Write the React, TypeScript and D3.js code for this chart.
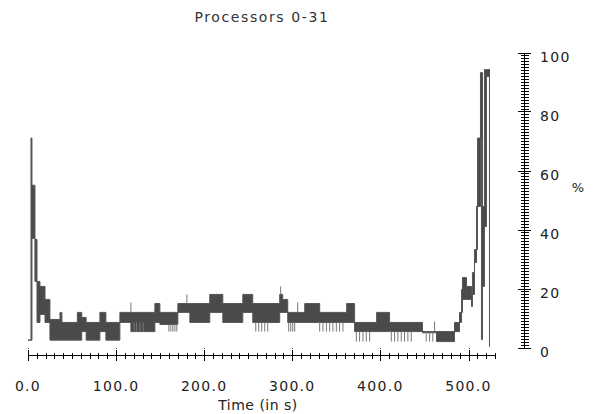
import React from "react";
import * as d3 from "d3";

// Time (s) at which each step begins, with the low / high envelope (%) of the busy signal
const T = [0, 3.4, 4.5, 7.9, 10.2, 13.6, 19.3, 24.9, 36.3, 38.5, 56, 61, 66, 81.6, 88.4, 104.3, 116.8, 144, 149.7, 170.1, 183.7, 206.3, 221.1, 243.8, 255.1, 285.7, 289.1, 294.8, 314.1, 331.1, 361.7, 370.7, 395.7, 410.4, 447.8, 463.7, 484.1, 489.8, 492.1, 493.2, 497.7, 503.4, 504.5, 506.8, 509.1, 510.2, 513.6, 514.7, 515.9, 518.1, 520.4, 523.8, 524.4];
const LO = [2.5, 2.5, 37, 22.4, 8.5, 11.2, 8.5, 2.5, 2.5, 2.5, 2.5, 5.4, 2.5, 5.4, 2.5, 8.5, 5.4, 8.5, 7.8, 11.9, 8.5, 11.9, 8.5, 11.9, 8.5, 11.9, 11.9, 8.5, 8.5, 8.5, 8.5, 5.4, 5.4, 5.4, 5.0, 2.0, 5.4, 8.5, 11.9, 16.3, 16.3, 13.9, 18, 28.8, 33.2, 47.8, 70.5, 2.7, 20.7, 41, 91.9, 0.3, 0.3];
const HI = [2.5, 71, 55, 36.6, 22.4, 20.7, 16.3, 9.5, 11.9, 8.5, 11.9, 10.2, 8.5, 11.9, 8.5, 11.9, 11.9, 14.9, 11.9, 14.9, 14.9, 18, 14.9, 18, 14.9, 18, 16.3, 11.9, 14.9, 11.9, 14.9, 8.5, 11.9, 8.5, 5.4, 5.4, 8.5, 11.9, 19.7, 23.7, 20.7, 18, 25.4, 33.2, 47.8, 71, 93.2, 93.2, 47.8, 94.2, 94.2, 94.2, 94.2];

// Isolated thin spikes (time, low %, high %)
const SPIKE_T = [116.8, 120.5, 123.2, 127.0, 130.7, 159.9, 162.1, 164.4, 166.7, 168.9, 180.3, 258.5, 261.9, 265.3, 268.7, 272.1, 286.8, 295.9, 298.2, 300.5, 302.7, 306.1, 331.1, 334.8, 338.7, 342.4, 346.1, 350.0, 353.7, 357.5, 372.7, 376.4, 380.2, 384.0, 387.8, 412.4, 416.1, 419.8, 423.7, 427.4, 431.2, 435.0, 452.0, 455.8, 459.5, 461.5];
const SPIKE_LO = [11.9, 5.4, 5.4, 5.4, 5.4, 5.4, 5.4, 5.4, 5.4, 5.4, 14.9, 5.4, 5.4, 5.4, 5.4, 5.4, 18, 5.4, 5.4, 5.4, 5.4, 11.9, 5.4, 5.4, 5.4, 5.4, 5.4, 5.4, 5.4, 5.4, 2.0, 2.0, 2.0, 2.0, 2.0, 2.0, 2.0, 2.0, 2.0, 2.0, 2.0, 2.0, 2.0, 2.0, 2.0, 5.4];
const SPIKE_HI = [15.3, 8.5, 8.5, 8.5, 8.5, 7.8, 7.8, 7.8, 7.8, 7.8, 18, 8.5, 8.5, 8.5, 8.5, 8.5, 20.7, 8.5, 8.5, 8.5, 8.5, 15.3, 8.5, 8.5, 8.5, 8.5, 8.5, 8.5, 8.5, 8.5, 5.4, 5.4, 5.4, 5.4, 5.4, 5.4, 5.4, 5.4, 5.4, 5.4, 5.4, 5.4, 5.4, 5.4, 5.4, 8.8];

const X_MAJOR = [0, 100, 200, 300, 400, 500];
const X_MINOR = d3.range(0, 531, 10);
const Y_MAJOR = [0, 20, 40, 60, 80, 100];
const Y_MINOR = d3.range(0, 101, 1);
const GRID_X = [0, 100, 200, 300, 400, 500, 557];

const TITLE = "Processors 0-31";
const X_TITLE = "Time (in s)";
const Y_TITLE = "%";

export default function App() {
  const W = 594, H = 414;
  const x = d3.scaleLinear().domain([0, 500]).range([28, 468.5]);
  const y = d3.scaleLinear().domain([0, 100]).range([347.5, 52.5]);
  const axisY = 355;
  const axisX = 524;

  const data = T.map((t, i) => ({ t, lo: LO[i], hi: HI[i] }));
  const area = d3.area<any>().x(d => x(d.t)).y0(d => y(d.lo)).y1(d => y(d.hi)).curve(d3.curveStepAfter);
  const lineLo = d3.line<any>().x(d => x(d.t)).y(d => y(d.lo)).curve(d3.curveStepAfter);
  const lineHi = d3.line<any>().x(d => x(d.t)).y(d => y(d.hi)).curve(d3.curveStepAfter);

  const font = "'DejaVu Sans', sans-serif";
  const gridMaxT = GRID_X[GRID_X.length - 1];

  return (
    <svg width={W} height={H} style={{ position: "absolute", left: 0, top: 0, background: "#fff" }}>
      <text x={262} y={22} textAnchor="middle" fontFamily={font} fontSize={14} letterSpacing={1.6} fill="#333">{TITLE}</text>

      {/* corner dots */}
      {GRID_X.map(g => (
        <rect key={"gx" + g} x={Math.round(x(g))} y={Math.round(y(0))} width={1} height={1} fill="#333" />
      ))}
      {Y_MAJOR.map(g => (
        <rect key={"gy" + g} x={Math.round(x(gridMaxT))} y={Math.round(y(g))} width={1} height={1} fill="#333" />
      ))}

      {/* data */}
      <path d={area(data) || ""} fill="#4a4a4a" stroke="none" />
      <path d={lineLo(data) || ""} fill="none" stroke="#555" strokeWidth={1} />
      <path d={lineHi(data) || ""} fill="none" stroke="#555" strokeWidth={1} />
      {SPIKE_T.map((t, i) => (
        <line key={"s" + i} x1={x(t)} x2={x(t)} y1={y(SPIKE_LO[i])} y2={y(SPIKE_HI[i])} stroke="#777" strokeWidth={1} />
      ))}

      {/* x axis */}
      <g shapeRendering="crispEdges" stroke="#000">
        <line x1={x(0)} x2={x(X_MINOR[X_MINOR.length - 1]) + 0.5} y1={axisY + 0.5} y2={axisY + 0.5} />
        {X_MINOR.map(t => {
          const major = t % 100 === 0;
          return <line key={"xm" + t} x1={Math.round(x(t)) + 0.5} x2={Math.round(x(t)) + 0.5} y1={axisY - (major ? 5 : 2.5)} y2={axisY + (major ? 6 : 3.5)} />;
        })}
      </g>
      {X_MAJOR.map(t => (
        <text key={"xl" + t} x={x(t)} y={391} textAnchor="middle" fontFamily={font} fontSize={14} letterSpacing={1.3} fill="#222">{t.toFixed(1)}</text>
      ))}
      <text x={258} y={410} textAnchor="middle" fontFamily={font} fontSize={14} letterSpacing={0.5} fill="#222">{X_TITLE}</text>

      {/* right y axis */}
      <g shapeRendering="crispEdges" stroke="#000">
        <line x1={axisX + 0.5} x2={axisX + 0.5} y1={y(100)} y2={y(0) + 0.5} />
        {Y_MINOR.map(v => {
          const major = v % 20 === 0;
          return <line key={"ym" + v} y1={Math.round(y(v)) + 0.5} y2={Math.round(y(v)) + 0.5} x1={axisX - (major ? 6 : 3.5)} x2={axisX + (major ? 7 : 4.5)} />;
        })}
      </g>
      {Y_MAJOR.map(v => (
        <text key={"yl" + v} x={540} y={y(v) + 9} textAnchor="start" fontFamily={font} fontSize={14} letterSpacing={1.4} fill="#222">{v}</text>
      ))}
      <text x={578} y={192} textAnchor="middle" fontFamily={font} fontSize={13} fill="#222">{Y_TITLE}</text>
    </svg>
  );
}
